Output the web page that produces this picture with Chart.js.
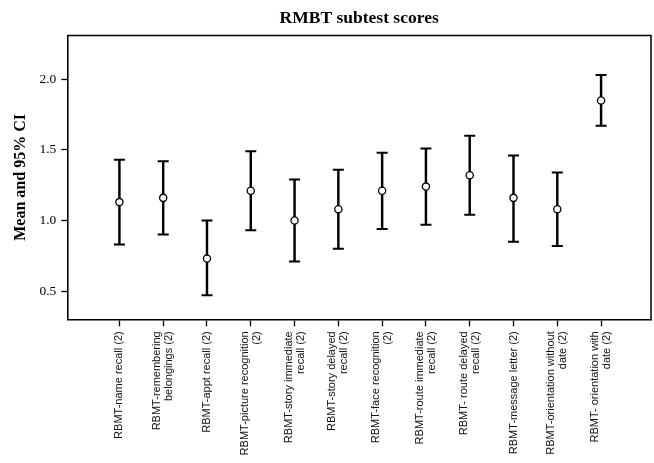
<!DOCTYPE html>
<html>
<head>
<meta charset="utf-8">
<title>RMBT subtest scores</title>
<script src="https://cdn.jsdelivr.net/npm/chart.js@4/dist/chart.umd.min.js"></script>
<style>
  html, body { margin: 0; padding: 0; background: #fff; }
  #wrap { width: 654px; height: 463px; }
</style>
</head>
<body>
<div id="wrap"><canvas id="c" width="654" height="463"></canvas></div>
<script>
// Rivermead Behavioural Memory Test subtests (x-axis categories)
const subtests = [
  "RBMT-name recall (2)",
  ["RBMT-remembering", "belongings (2)"],
  "RBMT-appt recall (2)",
  ["RBMT-picture recognition", "(2)"],
  ["RBMT-story immediate", "recall (2)"],
  ["RBMT-story delayed", "recall (2)"],
  ["RBMT-face recognition", "(2)"],
  ["RBMT-route immediate", "recall (2)"],
  ["RBMT- route delayed", "recall (2)"],
  "RBMT-message letter (2)",
  ["RBMT-orientation without", "date (2)"],
  ["RBMT- orientation with", "date (2)"]
];

// Mean score and 95% confidence interval for each subtest
const means   = [1.13, 1.16, 0.73, 1.21, 1.00, 1.08, 1.21, 1.24, 1.32, 1.16, 1.08, 1.85];
const ciLower = [0.83, 0.90, 0.47, 0.93, 0.71, 0.80, 0.94, 0.97, 1.04, 0.85, 0.82, 1.67];
const ciUpper = [1.43, 1.42, 1.00, 1.49, 1.29, 1.36, 1.48, 1.51, 1.60, 1.46, 1.34, 2.03];

const yTicks = [0.5, 1.0, 1.5, 2.0];
const chartTitle = "RMBT subtest scores";
const yTitle = "Mean and 95% CI";

const idx = subtests.map((_, i) => i);

// Box outline, title and rotated category labels
const frameAndLabels = {
  id: 'frameAndLabels',
  afterDraw(chart) {
    const { ctx, chartArea: a, scales: { x } } = chart;
    ctx.save();
    ctx.strokeStyle = '#000';
    ctx.lineWidth = 1.5;
    ctx.beginPath();
    ctx.moveTo(a.left, a.top);
    ctx.lineTo(a.right, a.top);
    ctx.lineTo(a.right, a.bottom);
    ctx.stroke();

    ctx.fillStyle = '#000';
    ctx.font = 'bold 17.5px "Liberation Serif", "Times New Roman", serif';
    ctx.textAlign = 'center';
    ctx.textBaseline = 'alphabetic';
    ctx.fillText(chartTitle, (a.left + a.right) / 2, 23);

    ctx.fillStyle = '#111';
    ctx.font = '11px "Liberation Sans", Arial, sans-serif';
    subtests.forEach((label, i) => {
      const lines = Array.isArray(label) ? label : [label];
      const px = x.getPixelForValue(i);
      lines.forEach((line, j) => {
        const off = (j - (lines.length - 1) / 2) * 12;
        ctx.save();
        ctx.translate(px + off, a.bottom + 12);
        ctx.rotate(-Math.PI / 2);
        ctx.textAlign = 'right';
        ctx.textBaseline = 'middle';
        ctx.fillText(line, 0, 0);
        ctx.restore();
      });
    });
    ctx.restore();
  }
};

new Chart(document.getElementById('c'), {
  type: 'scatter',
  data: {
    datasets: [
      {
        // confidence interval stems
        type: 'bar',
        data: idx.map(i => ({ x: i, y: [ciLower[i], ciUpper[i]] })),
        backgroundColor: '#000',
        borderWidth: 0,
        barThickness: 1.8,
        grouped: false,
        order: 3
      },
      {
        // upper caps
        data: idx.map(i => ({ x: i, y: ciUpper[i] })),
        pointStyle: 'line',
        radius: 5.5,
        borderColor: '#000',
        borderWidth: 2,
        order: 2
      },
      {
        // lower caps
        data: idx.map(i => ({ x: i, y: ciLower[i] })),
        pointStyle: 'line',
        radius: 5.5,
        borderColor: '#000',
        borderWidth: 2,
        order: 2
      },
      {
        // means
        data: idx.map(i => ({ x: i, y: means[i] })),
        pointStyle: 'circle',
        radius: 3.6,
        backgroundColor: '#fff',
        borderColor: '#000',
        borderWidth: 1.3,
        order: 1
      }
    ]
  },
  options: {
    responsive: false,
    animation: false,
    events: [],
    layout: { autoPadding: false, padding: { top: 35.5, right: 3, left: 0, bottom: 0 } },
    plugins: {
      legend: { display: false },
      tooltip: { enabled: false },
      title: { display: false }
    },
    scales: {
      x: {
        type: 'linear',
        min: -1.19,
        max: 12.14,
        offset: false,
        afterBuildTicks: s => { s.ticks = idx.map(v => ({ value: v })); },
        afterFit: s => { s.height = 143.7; },
        ticks: { display: false },
        grid: {
          offset: false,
          drawOnChartArea: false,
          drawTicks: true,
          tickLength: 7,
          tickColor: '#000',
          tickWidth: 1.3
        },
        border: { display: true, color: '#000', width: 1.6 }
      },
      y: {
        type: 'linear',
        min: 0.3,
        max: 2.31,
        afterBuildTicks: s => { s.ticks = yTicks.map(v => ({ value: v })); },
        afterFit: s => { s.width = 67.3; },
        ticks: {
          color: '#000',
          padding: 5,
          font: { family: '"Liberation Serif", "Times New Roman", serif', size: 13.5 },
          callback: v => Number(v).toFixed(1)
        },
        grid: {
          drawOnChartArea: false,
          drawTicks: true,
          tickLength: 6,
          tickColor: '#000',
          tickWidth: 1.3
        },
        border: { display: true, color: '#000', width: 1.6 },
        title: {
          display: true,
          text: yTitle,
          color: '#000',
          font: { family: '"Liberation Serif", "Times New Roman", serif', size: 16, weight: 'bold' },
          padding: { top: 11.4, bottom: 0 }
        }
      }
    }
  },
  plugins: [frameAndLabels]
});
</script>
</body>
</html>
